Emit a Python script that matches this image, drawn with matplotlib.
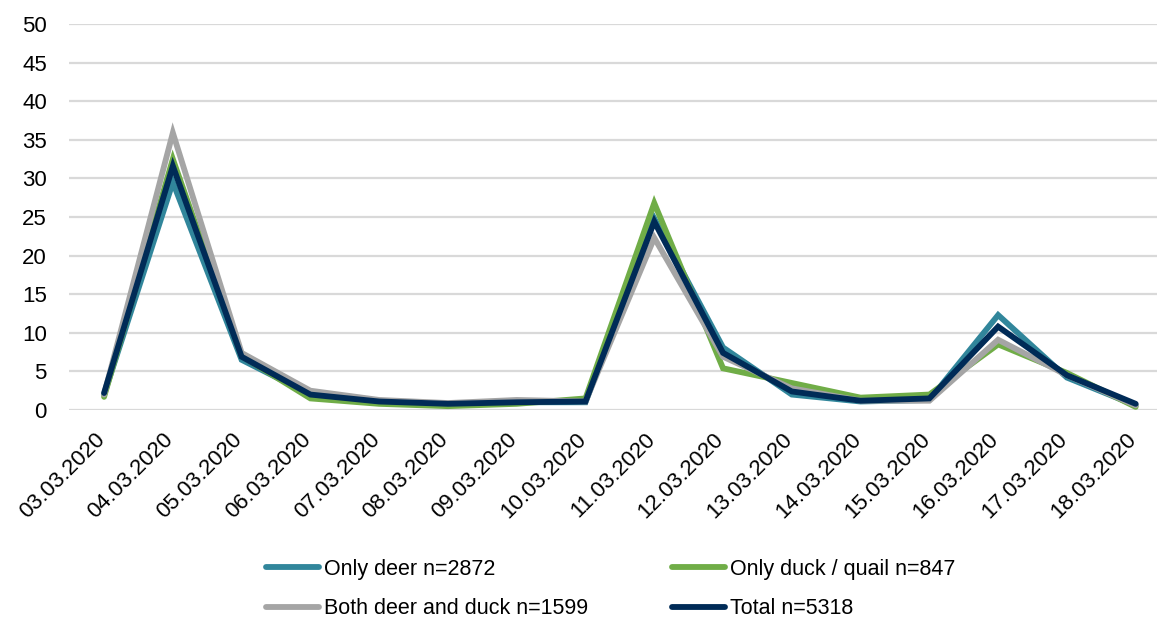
import matplotlib
matplotlib.use("Agg")
import matplotlib.pyplot as plt
import matplotlib.transforms as mtransforms

plt.rcParams['font.family'] = ['Liberation Sans', 'DejaVu Sans']

dates = ["03.03.2020", "04.03.2020", "05.03.2020", "06.03.2020", "07.03.2020",
         "08.03.2020", "09.03.2020", "10.03.2020", "11.03.2020", "12.03.2020",
         "13.03.2020", "14.03.2020", "15.03.2020", "16.03.2020", "17.03.2020",
         "18.03.2020"]

only_deer = [2.0, 29.5, 6.5, 2.0, 1.0, 0.8, 1.0, 1.0, 24.8, 8.1, 2.0, 1.1, 1.3, 12.3, 4.2, 0.6]
only_duck = [1.7, 32.5, 7.0, 1.5, 0.8, 0.5, 0.8, 1.5, 26.8, 5.4, 3.5, 1.6, 2.0, 8.5, 4.8, 0.4]
both = [2.0, 35.9, 7.4, 2.5, 1.3, 0.9, 1.3, 1.1, 22.3, 6.9, 2.8, 1.2, 1.2, 9.1, 4.5, 0.6]
total = [2.2, 31.6, 6.9, 2.0, 1.1, 0.8, 1.0, 1.1, 24.4, 7.4, 2.4, 1.2, 1.5, 10.8, 4.5, 0.8]

series = [
    ("Only deer n=2872", only_deer, "#31869B"),
    ("Only duck / quail n=847", only_duck, "#70AD47"),
    ("Both deer and duck n=1599", both, "#A5A5A5"),
    ("Total n=5318", total, "#002B57"),
]

fig = plt.figure(figsize=(11.57, 6.17), dpi=100)
ax = fig.add_axes([69 / 1157, 1 - 410 / 617, 1 - 69 / 1157, (410 - 24) / 617])

x = list(range(len(dates)))
lines = []
for label, vals, color in series:
    ln, = ax.plot(x, vals, color=color, lw=4.2, label=label, solid_joinstyle='miter',
                  solid_capstyle='round')
    lines.append(ln)

ax.set_ylim(0, 50)
ax.set_xlim(-0.51, 15.31)
ax.set_yticks(range(0, 51, 5))
ax.yaxis.grid(True, color="#D9D9D9", lw=1.6)
ax.set_axisbelow(True)
for s in ax.spines.values():
    s.set_visible(False)
ax.tick_params(axis='both', length=0, labelsize=16, colors='black')
ax.tick_params(axis='y', pad=16)
ax.set_xticks(x)
ax.set_xticklabels(dates, rotation=45, ha='right', va='top', rotation_mode='anchor')
ax.tick_params(axis='x', pad=11)
offset = mtransforms.ScaledTranslation(-0.10, -0.04, fig.dpi_scale_trans)
for lbl in ax.get_xticklabels():
    lbl.set_transform(lbl.get_transform() + offset)

# row-major order in a 2-column legend
order = [0, 2, 1, 3]
fig.legend([lines[i] for i in order], [series[i][0] for i in order], ncol=2,
           loc='upper left', bbox_to_anchor=(266 / 1157, 1 - 559 / 617),
           frameon=False, fontsize=15.5, handlelength=2.45, handletextpad=0.25,
           columnspacing=3.9, labelspacing=0.85, borderpad=0, borderaxespad=0)

fig.savefig("out.png", dpi=100)
